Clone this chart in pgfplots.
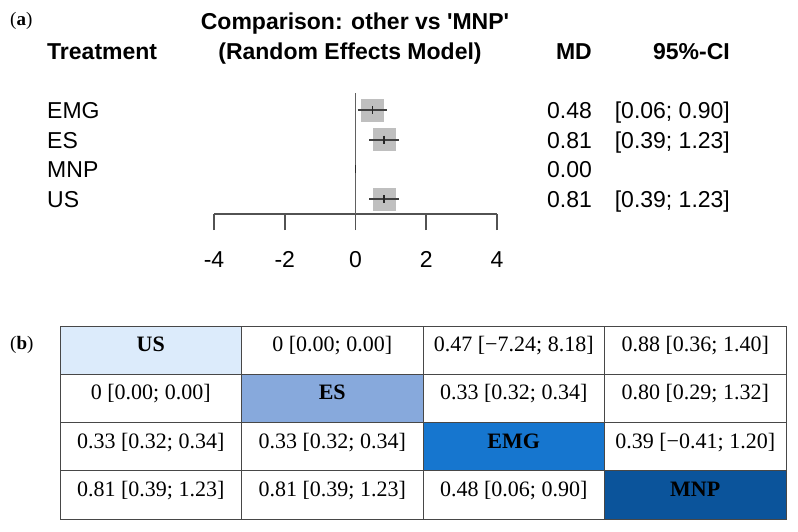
\documentclass[border=0pt]{standalone}
\usepackage{pgfplots}
\pgfplotsset{compat=1.18}
\usepackage{pgfplotstable}
\usepackage{fontspec}
\setmainfont{Liberation Sans}
\newfontfamily\tabfont{Liberation Serif}

\definecolor{cUS}{RGB}{220,235,251}
\definecolor{cES}{RGB}{135,169,220}
\definecolor{cEMG}{RGB}{22,118,207}
\definecolor{cMNP}{RGB}{11,84,155}

\newcommand\fa{\fontsize{23}{27}\selectfont}
\newcommand\fb{\tabfont\fontsize{22}{26}\selectfont}
% brackets and semicolon kept unexpanded inside stored point meta
\protected\def\lb{[}
\protected\def\rb{]}
\protected\def\sc{;}

% forest plot rows: other vs MNP
\pgfplotstableread[col sep=comma]{
y,md,lo,hi,trt,mdt,cit
4,0.48,0.06,0.90,EMG,0.48,{\lb0.06\sc{} 0.90\rb}
3,0.81,0.39,1.23,ES,0.81,{\lb0.39\sc{} 1.23\rb}
2,0.00,0.00,0.00,MNP,0.00,{}
1,0.81,0.39,1.23,US,0.81,{\lb0.39\sc{} 1.23\rb}
}\forestdata

% league table, off-diagonal cells
\pgfplotstableread[col sep=comma]{
x,y,t
1.5,3.47,{0 \lb0.00\sc{} 0.00\rb}
2.5,3.47,{0.47 \lb−7.24\sc{} 8.18\rb}
3.5,3.47,{0.88 \lb0.36\sc{} 1.40\rb}
0.5,2.47,{0 \lb0.00\sc{} 0.00\rb}
2.5,2.47,{0.33 \lb0.32\sc{} 0.34\rb}
3.5,2.47,{0.80 \lb0.29\sc{} 1.32\rb}
0.5,1.47,{0.33 \lb0.32\sc{} 0.34\rb}
1.5,1.47,{0.33 \lb0.32\sc{} 0.34\rb}
3.5,1.47,{0.39 \lb−0.41\sc{} 1.20\rb}
0.5,0.47,{0.81 \lb0.39\sc{} 1.23\rb}
1.5,0.47,{0.81 \lb0.39\sc{} 1.23\rb}
2.5,0.47,{0.48 \lb0.06\sc{} 0.90\rb}
}\leaguedata

\begin{document}
\begin{tikzpicture}
\useasboundingbox (0,0) rectangle (798pt,-532pt);

% ---- (a) forest plot
\begin{axis}[
  at={(214pt,-214pt)}, anchor=south west,
  scale only axis, width=283pt, height=121.8pt,
  xmin=-4, xmax=4, ymin=0.5, ymax=4.6,
  clip=false,
  axis x line=bottom, axis y line=none,
  x axis line style={-, line width=1.6pt, color=black!68},
  xtick={-4,-2,0,2,4}, xticklabels={-4,-2,0,2,4},
  ytick=\empty,
  tick align=outside, major tick length=16pt,
  x tick style={line width=1.6pt, color=black!68},
  xticklabel style={font=\fa, yshift=-18pt},
]
\addplot[black!62, line width=1.6pt] coordinates {(0,0.5) (0,4.57)};
% weight boxes round the estimates
\addplot[fill=black!25, draw=none] coordinates {(0.155,3.613) (0.805,3.613) (0.805,4.387) (0.155,4.387)} -- cycle;
\addplot[fill=black!25, draw=none] coordinates {(0.485,2.613) (1.135,2.613) (1.135,3.387) (0.485,3.387)} -- cycle;
\addplot[fill=black!25, draw=none] coordinates {(0.485,0.613) (1.135,0.613) (1.135,1.387) (0.485,1.387)} -- cycle;
% confidence intervals
\addplot[black!75, line width=1.8pt] coordinates {(0.06,4) (0.90,4)};
\addplot[black!75, line width=1.8pt] coordinates {(0.39,3) (1.23,3)};
\addplot[black!75, line width=1.8pt] coordinates {(0.39,1) (1.23,1)};
\addplot[only marks, mark=|, mark size=4pt,
  mark options={line width=1.8pt, black!85}] table[x=md, y=y] {\forestdata};
% text columns
\addplot[only marks, mark=none, nodes near coords, point meta=explicit symbolic,
  nodes near coords style={anchor=base west, inner sep=0pt, font=\fa, yshift=-8.3pt}]
  table[x expr=-8.72, y=y, meta=trt] {\forestdata};
\addplot[only marks, mark=none, nodes near coords, point meta=explicit symbolic,
  nodes near coords style={anchor=base east, inner sep=0pt, font=\fa, yshift=-8.3pt}]
  table[x expr=6.69, y=y, meta=mdt] {\forestdata};
\addplot[only marks, mark=none, nodes near coords, point meta=explicit symbolic,
  skip coords between index={2}{3},
  nodes near coords style={anchor=base east, inner sep=0pt, font=\fa, yshift=-8.3pt}]
  table[x expr=10.59, y=y, meta=cit] {\forestdata};
\end{axis}

\node[anchor=base, inner sep=0pt, font=\fa\bfseries] at (355pt,-30pt)
  {Comparison: other vs \textquotesingle MNP\textquotesingle};
\node[anchor=base, inner sep=0pt, font=\fa\bfseries] at (350pt,-60pt) {(Random Effects Model)};
\node[anchor=base west, inner sep=0pt, font=\fa\bfseries] at (47pt,-60pt) {Treatment};
\node[anchor=base east, inner sep=0pt, font=\fa\bfseries] at (592pt,-60pt) {MD};
\node[anchor=base east, inner sep=0pt, font=\fa\bfseries] at (730pt,-60pt) {95\%-CI};
\node[anchor=base west, inner sep=0pt, font=\tabfont\fontsize{19}{22}\selectfont] at (10pt,-26pt) {(\textbf{a})};
\node[anchor=base west, inner sep=0pt, font=\tabfont\fontsize{19}{22}\selectfont] at (10pt,-349pt) {(\textbf{b})};

% ---- (b) league table
\begin{axis}[
  at={(60pt,-519pt)}, anchor=south west,
  scale only axis, width=726pt, height=193pt,
  xmin=0, xmax=4, ymin=0, ymax=4,
  xtick={1,2,3}, ytick={1,2,3},
  xticklabels={}, yticklabels={},
  major tick length=0pt,
  grid=major, major grid style={black!72, line width=1pt},
  axis line style={black!72, line width=1pt},
  axis on top,
]
\addplot[fill=cUS, draw=none] coordinates {(0,3) (1,3) (1,4) (0,4)} -- cycle;
\addplot[fill=cES, draw=none] coordinates {(1,2) (2,2) (2,3) (1,3)} -- cycle;
\addplot[fill=cEMG, draw=none] coordinates {(2,1) (3,1) (3,2) (2,2)} -- cycle;
\addplot[fill=cMNP, draw=none] coordinates {(3,0) (4,0) (4,1) (3,1)} -- cycle;
\addplot[only marks, mark=none, nodes near coords, point meta=explicit symbolic,
  nodes near coords style={anchor=base, inner sep=0pt, font=\fb}]
  table[x=x, y=y, meta=t] {\leaguedata};
\addplot[only marks, mark=none, nodes near coords, point meta=explicit symbolic,
  nodes near coords style={anchor=base, inner sep=0pt, font=\fb\bfseries}]
  coordinates {(0.5,3.47) [US] (1.5,2.47) [ES] (2.5,1.47) [EMG] (3.5,0.47) [MNP]};
\end{axis}
\end{tikzpicture}
\end{document}
